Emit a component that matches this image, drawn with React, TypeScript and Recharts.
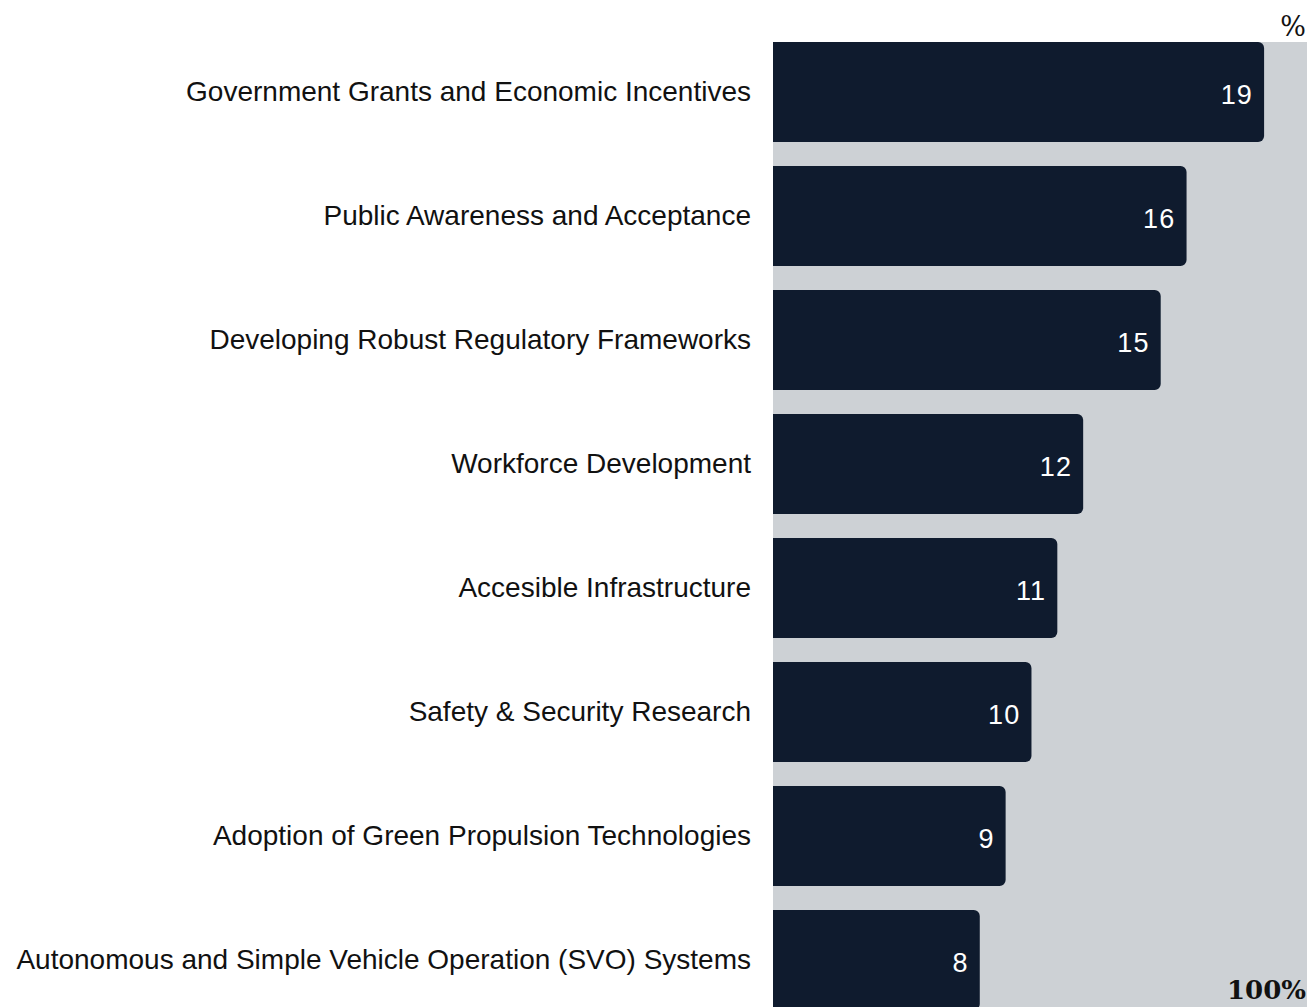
import React from "react";
import { Bar, BarChart, Cell, LabelList, XAxis, YAxis } from "recharts";

const categories = [
  "Government Grants and Economic Incentives",
  "Public Awareness and Acceptance",
  "Developing Robust Regulatory Frameworks",
  "Workforce Development",
  "Accesible Infrastructure",
  "Safety & Security Research",
  "Adoption of Green Propulsion Technologies",
  "Autonomous and Simple Vehicle Operation (SVO) Systems",
];
const shares = [19, 16, 15, 12, 11, 10, 9, 8];

const chartData = categories.map((name, i) => ({ name, value: shares[i] }));

const BAR_COLOR = "#0f1b2e";
const PLOT_BG = "#cdd1d5";
const SANS = '"Liberation Sans", Arial, Helvetica, sans-serif';
const SERIF = '"DejaVu Serif", "Liberation Serif", serif';

export default function App() {
  return (
    <div
      style={{
        position: "fixed",
        left: 0,
        top: 0,
        width: 1307,
        height: 1007,
        overflow: "hidden",
        background: "#fff",
      }}
    >
      {/* plot background */}
      <div
        style={{
          position: "absolute",
          left: 773,
          top: 42,
          width: 534,
          height: 965,
          background: PLOT_BG,
        }}
      />
      <div style={{ position: "absolute", left: 0, top: 0 }}>
        <BarChart
          width={1307}
          height={1060}
          data={chartData}
          layout="vertical"
          margin={{ top: 30, right: 0, bottom: 38, left: 0 }}
          barSize={100}
        >
          <XAxis type="number" hide domain={[0, 20.66]} />
          <YAxis
            type="category"
            dataKey="name"
            width={773}
            axisLine={false}
            tickLine={false}
            tickMargin={16}
            interval={0}
            tick={{ fill: "#111", fontSize: 28, fontFamily: SANS, dy: -1 }}
          />
          <Bar dataKey="value" radius={[0, 6, 6, 0]} isAnimationActive={false}>
            {chartData.map((d) => (
              <Cell key={d.name} fill={BAR_COLOR} />
            ))}
            <LabelList
              dataKey="value"
              position="insideRight"
              offset={11}
              fill="#fff"
              style={{ fontSize: 27, fontFamily: SANS, letterSpacing: 1.2 }}
              dy={2}
            />
          </Bar>
        </BarChart>
      </div>
      <div
        style={{
          position: "absolute",
          right: 1,
          top: 11,
          fontFamily: SERIF,
          fontSize: 27,
          color: "#111",
        }}
      >
        %
      </div>
      <div
        style={{
          position: "absolute",
          right: 1,
          top: 975,
          fontFamily: SERIF,
          fontSize: 26,
          fontWeight: 700,
          color: "#111",
        }}
      >
        100%
      </div>
    </div>
  );
}
